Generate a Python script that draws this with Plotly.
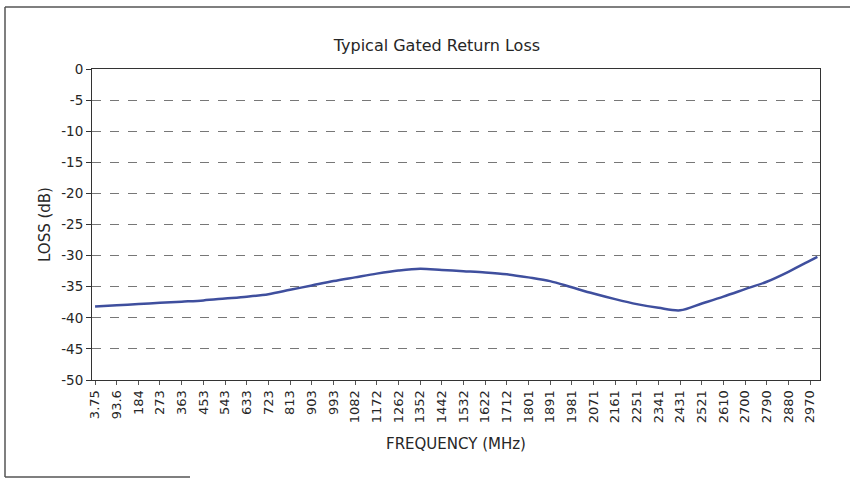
import plotly.graph_objects as go

# Frequency sweep (MHz) and measured gated return loss (dB)
freq_mhz = [3.75, 93.6, 184, 273, 363, 453, 543, 633, 723, 813, 903, 993,
            1082, 1172, 1262, 1352, 1442, 1532, 1622, 1712, 1801, 1891, 1981,
            2071, 2161, 2251, 2341, 2431, 2521, 2610, 2700, 2790, 2880, 2970, 3000]
loss_db = [-38.2, -38.0, -37.8, -37.6, -37.4, -37.2, -36.9, -36.6, -36.2,
           -35.5, -34.8, -34.1, -33.5, -32.9, -32.4, -32.1, -32.3, -32.5,
           -32.7, -33.0, -33.5, -34.1, -35.1, -36.1, -37.0, -37.8, -38.4,
           -38.8, -37.7, -36.6, -35.4, -34.2, -32.6, -30.8, -30.2]

# Category labels shown along the frequency axis
tick_labels = ["3.75", "93.6", "184", "273", "363", "453", "543", "633", "723",
               "813", "903", "993", "1082", "1172", "1262", "1352", "1442",
               "1532", "1622", "1712", "1801", "1891", "1981", "2071", "2161",
               "2251", "2341", "2431", "2521", "2610", "2700", "2790", "2880",
               "2970"]
tick_freqs = [float(t) for t in tick_labels]

y_ticks = [0, -5, -10, -15, -20, -25, -30, -35, -40, -45, -50]
y_tick_text = [str(v) for v in y_ticks]  # plain hyphen for negatives

font = "DejaVu Sans, Liberation Sans, Arial, sans-serif"
ink = "#262626"

fig = go.Figure()
fig.add_trace(go.Scatter(
    x=freq_mhz, y=loss_db, mode="lines",
    line=dict(color="#3f4f9e", width=2.5, shape="spline", smoothing=0.9),
    hoverinfo="x+y", showlegend=False,
))

fig.update_layout(
    width=850, height=478,
    margin=dict(l=92, r=30, t=69, b=98),
    paper_bgcolor="white", plot_bgcolor="white",
    font=dict(family=font, size=13, color=ink),
    title=dict(text="Typical Gated Return Loss", x=0.514, xanchor="center",
               y=0.905, yanchor="middle", font=dict(size=16, color=ink)),
    xaxis=dict(
        range=[-9, 3011], tickmode="array", tickvals=tick_freqs,
        ticktext=tick_labels, tickangle=-90, showgrid=False, zeroline=False,
        showline=True, linecolor="#333", linewidth=1, mirror=True,
        ticks="outside", ticklen=4, tickcolor="#555",
        tickfont=dict(size=13, color=ink),
        title=dict(text="FREQUENCY (MHz)", font=dict(size=15, color=ink),
                   standoff=16),
    ),
    yaxis=dict(
        range=[-50, 0], tickmode="array", tickvals=y_ticks,
        ticktext=y_tick_text,
        showgrid=True, gridcolor="#777", griddash="dash", gridwidth=1,
        zeroline=False, showline=True, linecolor="#333", linewidth=1,
        mirror=True, ticks="outside", ticklen=5, tickcolor="#333",
        tickfont=dict(size=13.5, color=ink),
        title=dict(text="LOSS (dB)", font=dict(size=15, color=ink),
                   standoff=6),
    ),
)

# Outer frame of the figure panel
frame = dict(type="line", xref="paper", yref="paper",
             line=dict(color="#555", width=1.5))
x0 = -87 / 728
x1 = 1 + 30 / 728
y_top = 1 + 62 / 311
y_bot = -97 / 311
fig.add_shape(**frame, x0=x0, x1=x1, y0=y_top, y1=y_top)
fig.add_shape(**frame, x0=x0, x1=x0, y0=y_bot, y1=y_top)
fig.add_shape(**frame, x0=x0, x1=(190 - 92) / 728, y0=y_bot, y1=y_bot)

fig.write_html("out.html")
